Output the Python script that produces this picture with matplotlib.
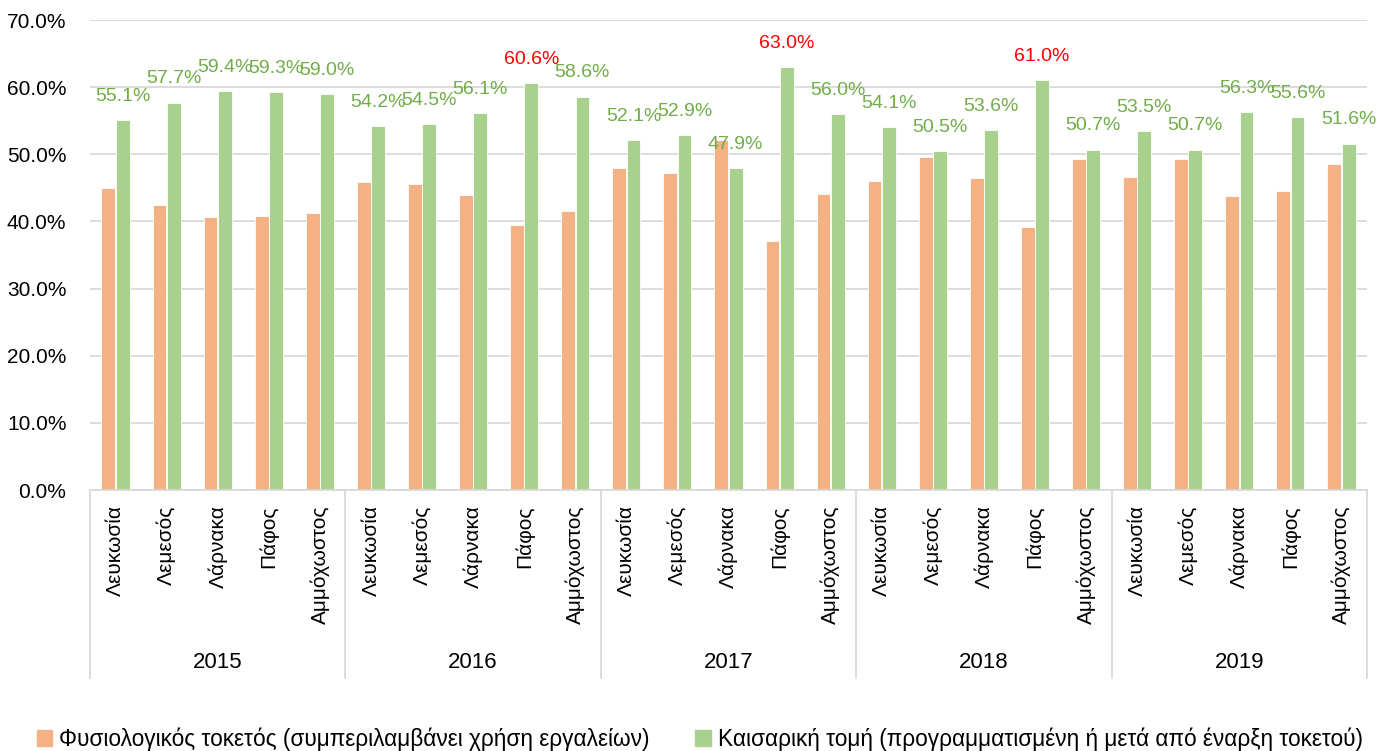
import matplotlib.pyplot as plt
import matplotlib.patches as mpatches
import matplotlib.transforms as mtransforms
import numpy as np

plt.rcParams["font.family"] = ["Liberation Sans", "DejaVu Sans"]

years = ["2015", "2016", "2017", "2018", "2019"]
cities = ["Λευκωσία", "Λεμεσός", "Λάρνακα", "Πάφος", "Αμμόχωστος"]

natural = [45.0, 42.4, 40.7, 40.8, 41.2,
           45.9, 45.6, 44.0, 39.5, 41.5,
           48.0, 47.2, 52.2, 37.1, 44.1,
           46.0, 49.6, 46.5, 39.1, 49.3,
           46.6, 49.3, 43.8, 44.6, 48.6]
caesarean = [55.1, 57.7, 59.4, 59.3, 59.0,
             54.2, 54.5, 56.1, 60.6, 58.6,
             52.1, 52.9, 47.9, 63.0, 56.0,
             54.1, 50.5, 53.6, 61.0, 50.7,
             53.5, 50.7, 56.3, 55.6, 51.6]

legend_labels = ["Φυσιολογικός τοκετός (συμπεριλαμβάνει χρήση εργαλείων)",
                 "Καισαρική τομή (προγραμματισμένη ή μετά από έναρξη τοκετού)"]

c_orange = "#F4B183"
c_green = "#A9D18E"
c_lab = "#70AD47"

fig = plt.figure(figsize=(13.91, 7.51), dpi=100)
ax = fig.add_axes([90/1391, 1-490/751, (1367-90)/1391, 470/751])

n = len(natural)
x = np.arange(n)
w = 0.27
ax.bar(x - 0.14, natural, w, color=c_orange, edgecolor="white", linewidth=0.6, zorder=2)
ax.bar(x + 0.14, caesarean, w, color=c_green, edgecolor="white", linewidth=0.6, zorder=2)

# value labels on the caesarean bars, red where above 60%
for xi, v in zip(x, caesarean):
    col = "#FF0000" if v > 60 else c_lab
    ax.annotate(f"{v:.1f}%", (xi + 0.14, v), xytext=(0, 17), textcoords="offset points",
                ha="center", va="center", color=col, fontsize=14)

ax.set_xlim(-0.5, n - 0.5)
ax.set_ylim(0, 70)
yt = np.arange(0, 71, 10)
ax.set_yticks(yt)
ax.set_yticklabels([f"{v:.1f}%" for v in yt], fontsize=15)
ax.yaxis.grid(True, color="#D9D9D9", linewidth=1.3, zorder=0)
ax.set_axisbelow(True)
ax.tick_params(axis="y", length=0, pad=17)

ax.set_xticks(x)
ax.set_xticklabels(cities * len(years), rotation=90, fontsize=15, va="top")
ax.tick_params(axis="x", length=0, pad=11)

for s in ["top", "right", "left"]:
    ax.spines[s].set_visible(False)
ax.spines["bottom"].set_color("#D9D9D9")
ax.spines["bottom"].set_linewidth(1.3)

# second level of the category axis: years and separators
trans = mtransforms.blended_transform_factory(ax.transData, ax.transAxes)
for i in range(len(years) + 1):
    xb = i * 5 - 0.5
    ax.plot([xb, xb], [0, -0.40], transform=trans, color="#D9D9D9", lw=1.3, clip_on=False)
for i, yr in enumerate(years):
    ax.text(i * 5 + 2, -0.368, yr, transform=trans, ha="center", va="center", fontsize=16)

handles = [mpatches.Patch(color=c_orange), mpatches.Patch(color=c_green)]
fig.legend(handles, legend_labels, loc="center", bbox_to_anchor=(0.503, 0.016), ncol=2,
           frameon=False, fontsize=16.3, handlelength=0.7, handleheight=0.7,
           handletextpad=0.3, columnspacing=2.0)

fig.savefig("out.png", dpi=100)
